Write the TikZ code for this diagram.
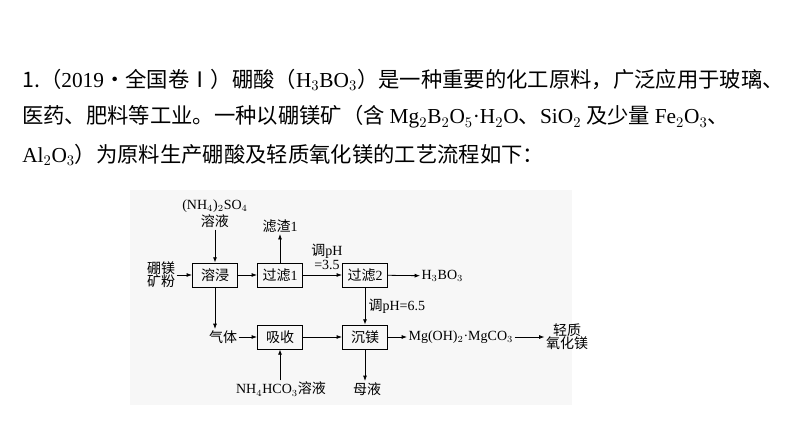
\documentclass[tikz,border=0pt]{standalone}
\usepackage{fontspec}
\setmainfont{Noto Sans CJK SC}
\newfontfamily\lat{Liberation Serif}
\usetikzlibrary{arrows.meta}
\begin{document}
\begin{tikzpicture}[x=0.75pt,y=-0.75pt,
  box/.style={draw,line width=0.6pt,minimum width=34pt,minimum height=18pt,inner sep=1pt,font=\fontsize{10.5}{12}\selectfont},
  lbl/.style={inner sep=1pt,font=\fontsize{10.5}{12}\selectfont,align=center},
  hdr/.style={anchor=west,inner sep=0pt,font=\fontsize{16}{20}\selectfont},
  arr/.style={-{Latex[length=4pt,width=3pt]},line width=0.6pt}]
\useasboundingbox (0,0) rectangle (794,447);
\fill[white] (0,0) rectangle (794,447);
\fill[black!3] (130,190) rectangle (572,405);
\node[hdr] (l1) at (22,80) {1.（{\lat 2019}·全国卷Ⅰ）硼酸（{\lat H$_3$BO$_3$}）是一种重要的化工原料，广泛应用于玻璃、};
\node[hdr] (l2) at (22,117) {医药、肥料等工业。一种以硼镁矿（含 {\lat Mg$_2$B$_2$O$_5$·H$_2$O}、{\lat SiO$_2$} 及少量 {\lat Fe$_2$O$_3$}、};
\node[hdr] (l3) at (22,155) {{\lat Al$_2$O$_3$}）为原料生产硼酸及轻质氧化镁的工艺流程如下：};
\node[box] (rj) at (215,275) {溶浸};
\node[box] (gl1) at (280,275) {过滤{\lat 1}};
\node[box] (gl2) at (365,275) {过滤{\lat 2}};
\node[box] (xs) at (280,337) {吸收};
\node[box] (cm) at (365,337) {沉镁};
\node[lbl] (ore) at (161,275) {硼镁\\[-2pt]矿粉};
\node[lbl] (nh4so4) at (215,214) {{\lat (NH$_4$)$_2$SO$_4$}\\[1pt]溶液};
\node[lbl] (zz) at (280,226) {滤渣{\lat 1}};
\node[lbl] (ph1) at (327,257) {调{\lat pH}\\[-1pt]{\lat =3.5}};
\node[lbl,anchor=west] (hbo) at (420,276) {\lat H$_3$BO$_3$};
\node[lbl,anchor=west] (ph2) at (367,306) {调{\lat pH=6.5}};
\node[lbl] (qt) at (223,337) {气体};
\node[lbl,anchor=west] (mg) at (407,337) {\lat Mg(OH)$_2$·MgCO$_3$};
\node[lbl] (qz) at (567,337) {轻质\\[-2pt]氧化镁};
\node[lbl] (nhco) at (281,389) {{\lat NH$_4$HCO$_3$}溶液};
\node[lbl] (my) at (367,389) {母液};
\draw[arr] (ore) -- (rj);
\draw[arr] (nh4so4) -- (rj);
\draw[arr] (rj) -- (gl1);
\draw[arr] (gl1) -- (zz);
\draw[arr] (gl1) -- (gl2);
\draw[arr] (gl2) -- (hbo);
\draw[arr] (gl2) -- (cm);
\draw[arr] (rj.south) -- (rj.south|-qt.north);
\draw[arr] (qt) -- (xs);
\draw[arr] (xs) -- (cm);
\draw[arr] (nhco.north-|xs) -- (xs);
\draw[arr] (cm.south) -- (cm.south|-my.north);
\draw[arr] (cm) -- (mg);
\draw[arr] (mg) -- (qz);
\end{tikzpicture}
\end{document}
